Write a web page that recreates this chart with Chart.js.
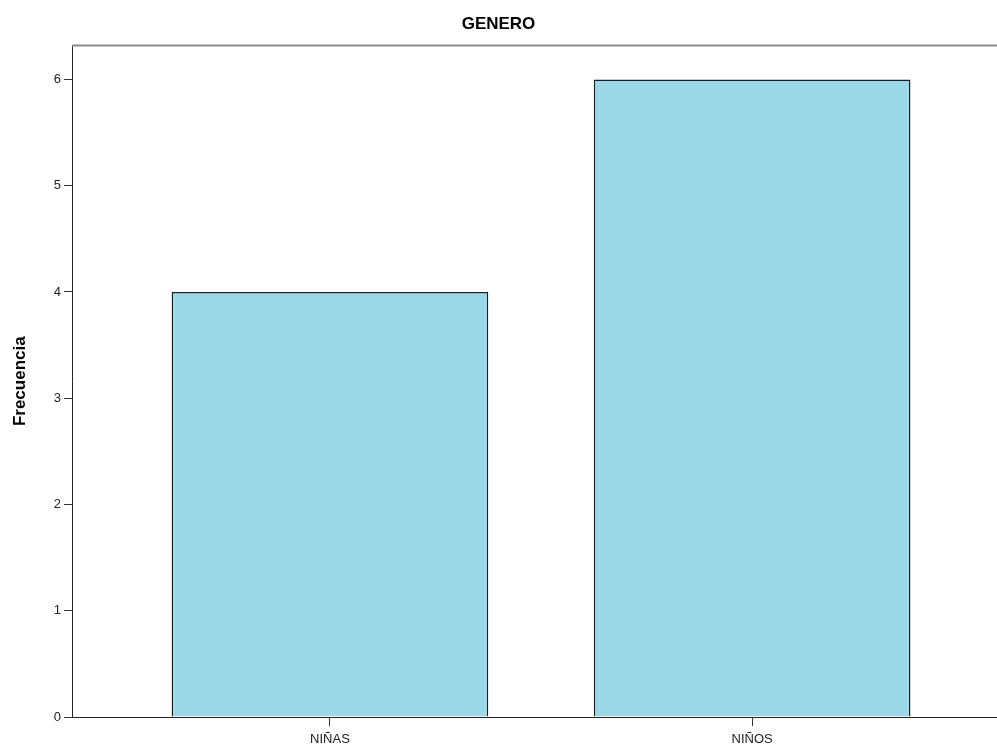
<!DOCTYPE html>
<html>
<head>
<meta charset="utf-8">
<script src="https://cdn.jsdelivr.net/npm/chart.js@4"></script>
<style>
  html, body { margin: 0; padding: 0; background: #fff; }
  canvas { display: block; }
</style>
</head>
<body>
<canvas id="chart" width="997" height="748"></canvas>
<script>
// data
const categories = ['NIÑAS', 'NIÑOS'];
const frequencies = [4, 6];
const yTicks = [0, 1, 2, 3, 4, 5, 6];

// draws the grey line along the top of the plot area
const topFrame = {
    id: 'topFrame',
    afterDraw(chart) {
        const { ctx, chartArea } = chart;
        ctx.save();
        ctx.strokeStyle = '#8c8c8c';
        ctx.lineWidth = 2;
        ctx.beginPath();
        ctx.moveTo(chartArea.left, chartArea.top);
        ctx.lineTo(chart.width, chartArea.top);
        ctx.stroke();
        ctx.restore();
    }
};

const ctx = document.getElementById('chart').getContext('2d');
new Chart(ctx, {
    type: 'bar',
    data: {
        datasets: [{
            label: 'Frecuencia',
            data: categories.map((c, i) => ({ x: i, y: frequencies[i] })),
            backgroundColor: '#9bd8e8',
            borderColor: '#1e1e1e',
            borderWidth: 1.5,
            barPercentage: 0.75,
            categoryPercentage: 1
        }]
    },
    options: {
        responsive: false,
        animation: false,
        devicePixelRatio: 1,
        layout: { padding: 0 },
        scales: {
            x: {
                type: 'linear',
                offset: false,
                min: -0.611,
                max: 1.58,
                afterBuildTicks: scale => { scale.ticks = categories.map((c, i) => ({ value: i })); },
                afterFit: scale => { scale.height = 31; },
                ticks: {
                    callback: v => categories[v],
                    color: '#222',
                    font: { family: 'Liberation Sans', size: 13 },
                    padding: 6,
                    maxRotation: 0
                },
                grid: { offset: false, drawOnChartArea: false, tickLength: 9, color: '#333' },
                border: { color: '#222', width: 1 }
            },
            y: {
                min: 0,
                max: 6.32,
                afterBuildTicks: scale => { scale.ticks = yTicks.map(v => ({ value: v })); },
                afterFit: scale => { scale.width = 72; },
                ticks: {
                    color: '#222',
                    font: { family: 'Liberation Sans', size: 13 },
                    padding: 3
                },
                grid: { drawOnChartArea: false, tickLength: 8, color: '#333' },
                border: { color: '#222', width: 1 },
                title: {
                    display: true,
                    text: 'Frecuencia',
                    color: '#000',
                    font: { family: 'Liberation Sans', size: 17, weight: 'bold' },
                    padding: { top: 10, bottom: 4 }
                }
            }
        },
        plugins: {
            legend: { display: false },
            tooltip: { enabled: false },
            title: {
                display: true,
                text: 'GENERO',
                color: '#000',
                font: { family: 'Liberation Sans', size: 17, weight: 'bold' },
                padding: { top: 14, bottom: 11 }
            }
        }
    },
    plugins: [topFrame]
});
</script>
</body>
</html>
